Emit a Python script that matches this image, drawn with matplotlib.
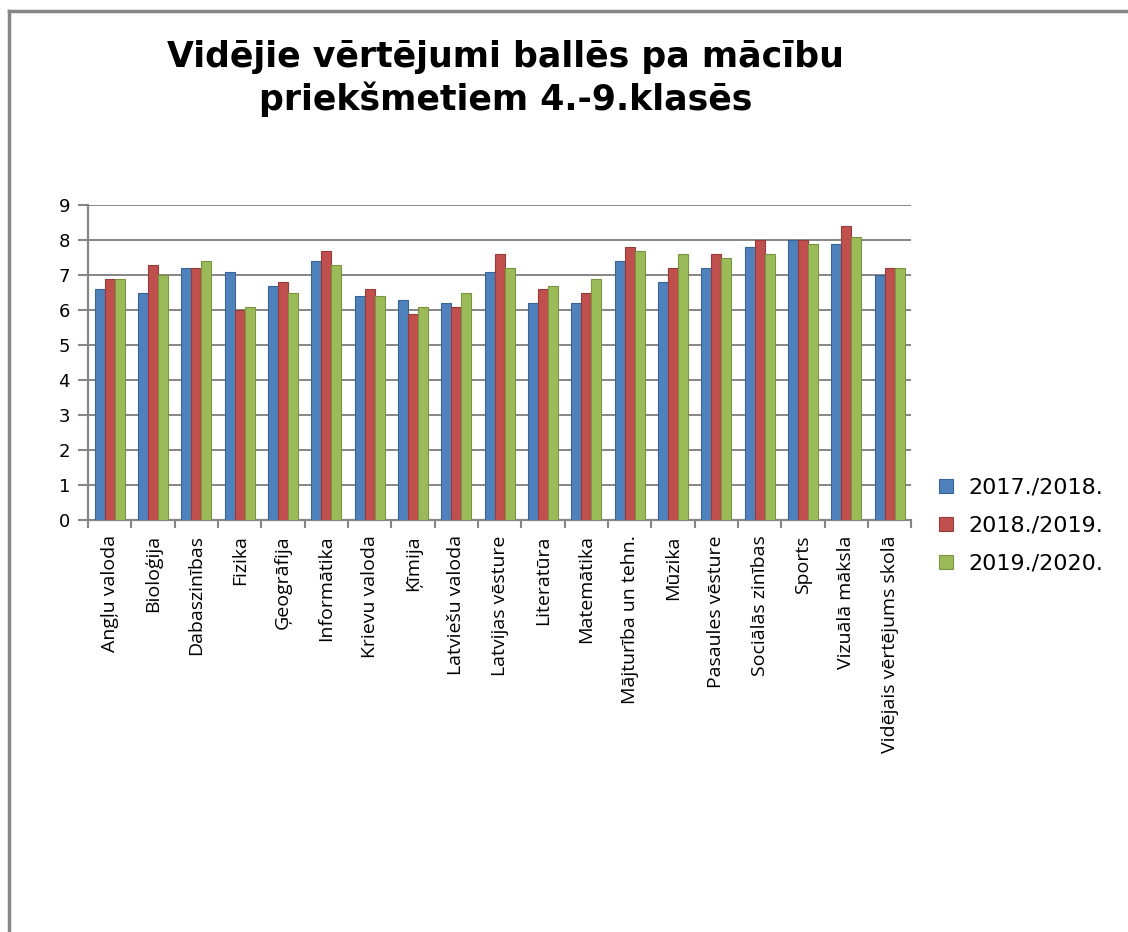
import numpy as np
import matplotlib.pyplot as plt
from matplotlib.lines import Line2D

subjects = ["Angļu valoda", "Bioloģija", "Dabaszinības", "Fizika", "Ģeogrāfija",
            "Informātika", "Krievu valoda", "Ķīmija", "Latviešu valoda",
            "Latvijas vēsture", "Literatūra", "Matemātika", "Mājturība un tehn.",
            "Mūzika", "Pasaules vēsture", "Sociālās zinības", "Sports",
            "Vizuālā māksla", "Vidējais vērtējums skolā"]
y2018 = [6.6, 6.5, 7.2, 7.1, 6.7, 7.4, 6.4, 6.3, 6.2, 7.1, 6.2, 6.2, 7.4, 6.8, 7.2, 7.8, 8.0, 7.9, 7.0]
y2019 = [6.9, 7.3, 7.2, 6.0, 6.8, 7.7, 6.6, 5.9, 6.1, 7.6, 6.6, 6.5, 7.8, 7.2, 7.6, 8.0, 8.0, 8.4, 7.2]
y2020 = [6.9, 7.0, 7.4, 6.1, 6.5, 7.3, 6.4, 6.1, 6.5, 7.2, 6.7, 6.9, 7.7, 7.6, 7.5, 7.6, 7.9, 8.1, 7.2]
series_names = ["2017./2018.", "2018./2019.", "2019./2020."]
colors = ["#4F81BD", "#C0504D", "#9BBB59"]
edges = ["#3A6494", "#963C3A", "#7A9444"]
title = "Vidējie vērtējumi ballēs pa mācību\npriekšmetiem 4.-9.klasēs"

fig = plt.figure(figsize=(11.28, 9.32), dpi=100)
ax = fig.add_axes([0.078, 0.442, 0.73, 0.338])

x = np.arange(len(subjects))
w = 0.23
for i, vals in enumerate([y2018, y2019, y2020]):
    ax.bar(x + (i - 1) * w, vals, width=w, color=colors[i], edgecolor=edges[i],
           linewidth=0.8, zorder=3, label=series_names[i])

grid_c = "#868686"
ax.set_ylim(0, 9)
ax.set_xlim(-0.5, len(subjects) - 0.5)
ax.set_yticks(range(0, 10))
ax.yaxis.grid(True, color=grid_c, linewidth=1.4, zorder=0)
for s in ["top", "right"]:
    ax.spines[s].set_visible(False)
for s in ["left", "bottom"]:
    ax.spines[s].set_color(grid_c)
    ax.spines[s].set_linewidth(1.6)
ax.tick_params(axis="y", length=7, width=1.5, color=grid_c, labelsize=13, pad=6)

ax.set_xticks(x)
ax.set_xticklabels(subjects, rotation=90, fontsize=14, family="Open Sans")
ax.set_xticks(np.arange(-0.5, len(subjects), 1.0), minor=True)
ax.tick_params(axis="x", which="major", length=0, pad=11)
ax.tick_params(axis="x", which="minor", length=6, width=1.5, color=grid_c)

fig.text(0.448, 0.916, title, ha="center", va="center", fontsize=25,
         fontweight="bold", linespacing=1.25)

# chart frame (top and left edge)
fig.add_artist(Line2D([0.008, 0.008], [0, 0.988], color=grid_c, lw=2.5))
fig.add_artist(Line2D([0.008, 1], [0.988, 0.988], color=grid_c, lw=2.5))

handles, labels = ax.get_legend_handles_labels()
fig.legend(handles, labels, loc="center left", bbox_to_anchor=(0.815, 0.436),
           frameon=False, fontsize=16, handlelength=0.6, handleheight=0.6,
           labelspacing=0.8, handletextpad=0.7)

fig.savefig("out.png", dpi=100)
